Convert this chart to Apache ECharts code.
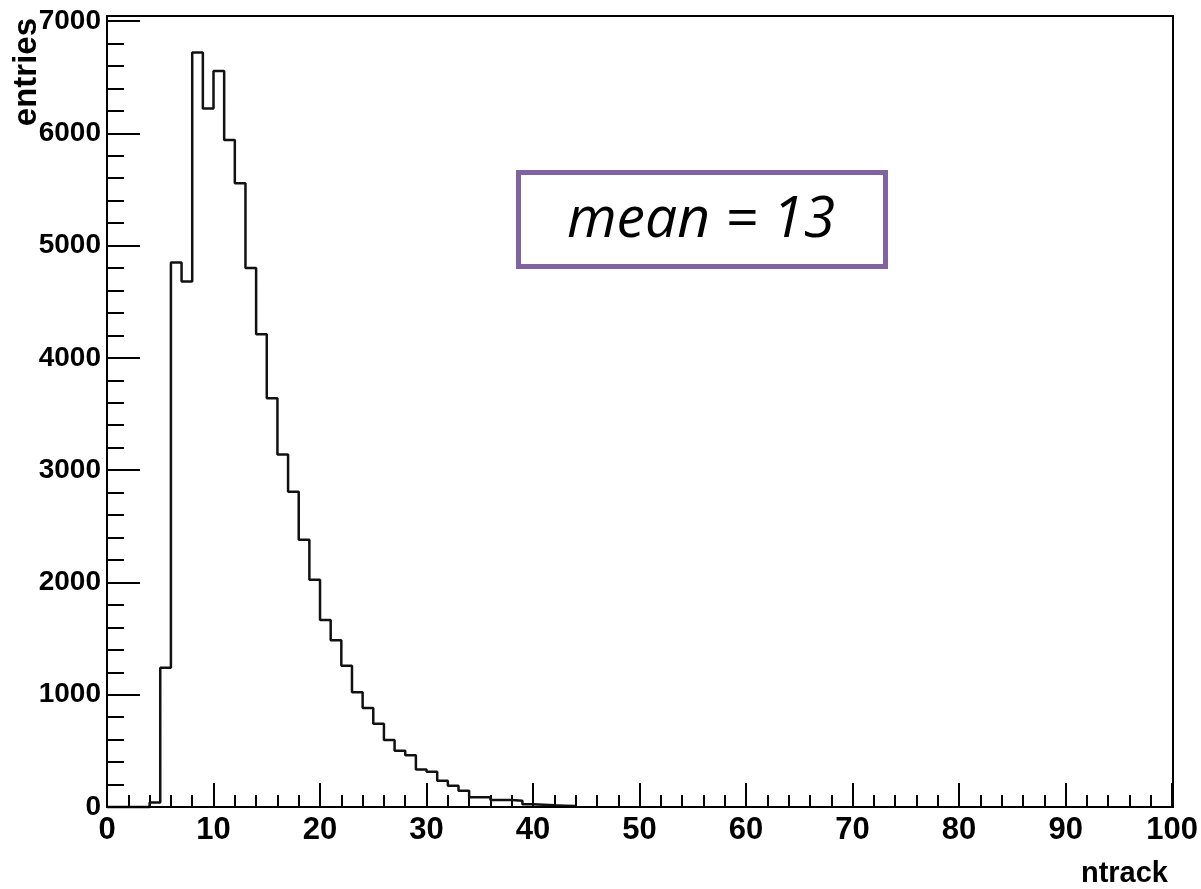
<!DOCTYPE html>
<html>
<head>
<meta charset="utf-8">
<script src="https://cdn.jsdelivr.net/npm/echarts@6/dist/echarts.min.js"></script>
<style>
html,body{margin:0;padding:0;background:#fff;}
#chart{width:1201px;height:889px;}
</style>
</head>
<body>
<div id="chart"></div>
<script>
// Histogram bins (lower edges, width 1) and entries
const binLow = [0,1,2,3,4,5,6,7,8,9,10,11,12,13,14,15,16,17,18,19,20,21,22,23,24,25,26,27,28,29,30,31,32,33,34,35,36,37,38,39,40,41,42,43];
const entries = [0,0,0,0,40,1240,4850,4680,6720,6220,6555,5940,5555,4800,4210,3640,3140,2808,2380,2024,1665,1484,1258,1021,882,742,597,500,460,335,314,234,190,145,86,86,62,62,56,25,20,15,12,8];
const lastEdge = 44;
const xTicks = [0,10,20,30,40,50,60,70,80,90,100];
const yTicks = [0,1000,2000,3000,4000,5000,6000,7000];
const xTitle = 'ntrack';
const yTitle = 'entries';
const note = 'mean = 13';

const pts = binLow.map((x, i) => [x, entries[i]]);
pts.push([lastEdge, 0]);

const chart = echarts.init(document.getElementById('chart'), null, {renderer: 'canvas'});
const fam = '"Liberation Sans", Arial, sans-serif';
chart.setOption({
  animation: false,
  backgroundColor: '#fff',
  grid: {left: 107, right: 28, top: 21, bottom: 82, containLabel: false},
  xAxis: {
    type: 'value', min: xTicks[0], max: xTicks[xTicks.length - 1], interval: 10,
    axisLine: {show: true, lineStyle: {color: '#000', width: 2}},
    axisTick: {show: true, inside: true, length: 24, lineStyle: {color: '#000', width: 2}},
    minorTick: {show: true, splitNumber: 5, length: 12, lineStyle: {color: '#000', width: 2}},
    splitLine: {show: false},
    axisLabel: {margin: 8, fontFamily: fam, fontWeight: 'bold', fontSize: 31, color: '#000',
      formatter: v => String(v)}
  },
  yAxis: {
    type: 'value', min: yTicks[0], max: yTicks[yTicks.length - 1], interval: 1000,
    axisLine: {show: true, lineStyle: {color: '#000', width: 2}},
    axisTick: {show: true, inside: true, length: 33, lineStyle: {color: '#000', width: 2}},
    minorTick: {show: true, splitNumber: 5, length: 17, lineStyle: {color: '#000', width: 2}},
    splitLine: {show: false},
    axisLabel: {margin: 6, fontFamily: fam, fontWeight: 'bold', fontSize: 28, color: '#000',
      formatter: v => String(v)}
  },
  series: [{
    type: 'line', step: 'end', data: pts, symbol: 'none', clip: false,
    lineStyle: {color: '#111', width: 2.5}
  }],
  graphic: [
    {type: 'rect', shape: {x: 107, y: 16, width: 1066, height: 791}, style: {fill: 'none', stroke: '#000', lineWidth: 2}, z: 10},
    {type: 'text', x: 27, y: 18, rotation: Math.PI / 2,
      style: {text: yTitle, align: 'right', verticalAlign: 'middle', font: 'bold 33px ' + fam, fill: '#000'}},
    {type: 'text', x: 1168, y: 874,
      style: {text: xTitle, align: 'right', verticalAlign: 'middle', font: 'bold 29px ' + fam, fill: '#000'}},
    {type: 'rect', shape: {x: 518.5, y: 172.5, width: 367, height: 94}, style: {fill: '#fff', stroke: '#8064A2', lineWidth: 5}, z: 20},
    {type: 'text', x: 701, y: 221, z: 21,
      style: {text: note, align: 'center', verticalAlign: 'middle', font: 'italic 57px "Open Sans", sans-serif', fill: '#000'}}
  ]
});
</script>
</body>
</html>
